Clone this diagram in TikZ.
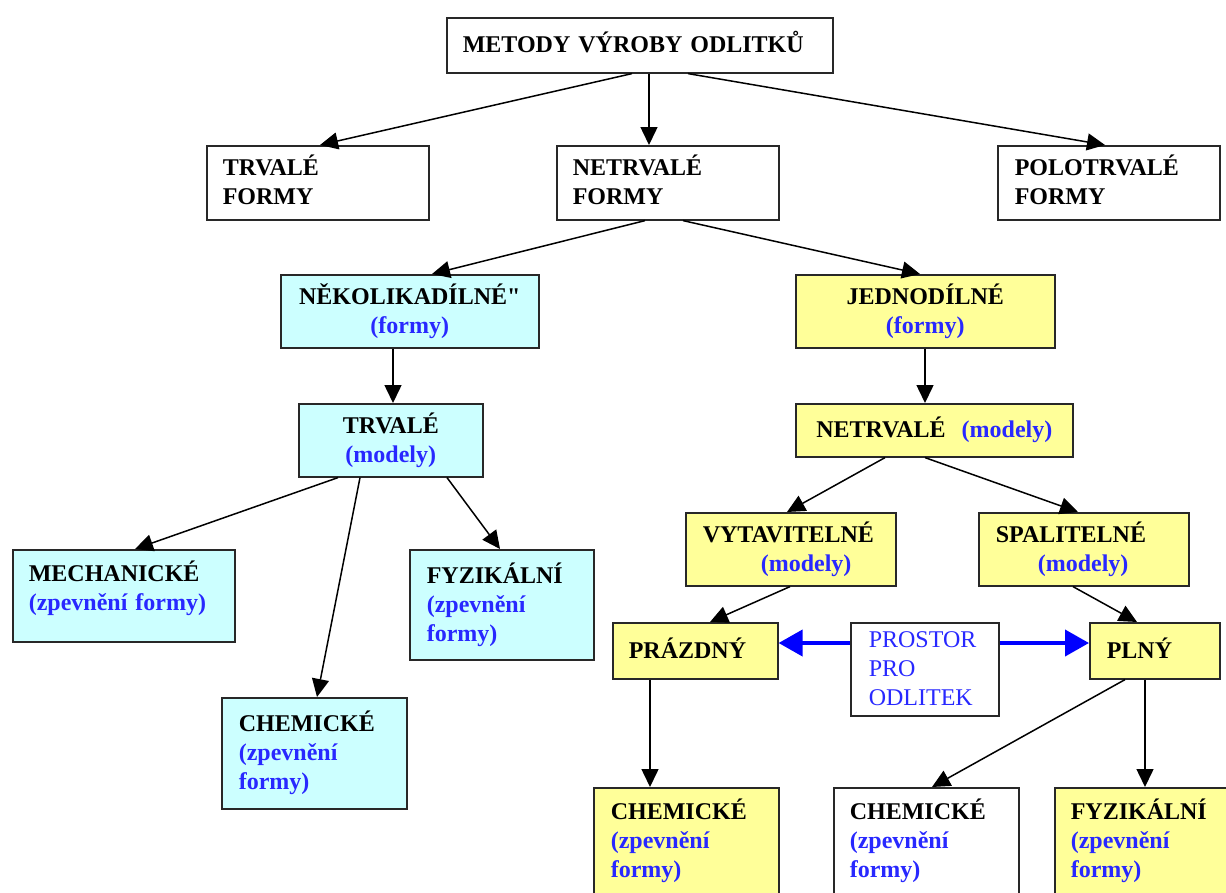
\documentclass[tikz,border=0pt]{standalone}
\usepackage{fontspec}
\setmainfont{Liberation Serif}
\usetikzlibrary{arrows.meta}
\definecolor{bcyan}{RGB}{204,255,255}
\definecolor{byel}{RGB}{255,255,153}
\definecolor{btxt}{RGB}{40,40,255}
\definecolor{bord}{RGB}{40,40,40}
\definecolor{barrow}{RGB}{0,0,255}
\newcommand\sr{\rule[-7pt]{0pt}{29pt}}
\newcommand\bl[1]{{\color{btxt}#1}}
\newcommand\straightquote{{\addfontfeatures{Ligatures=TeXOff}"}}
\begin{document}
\begin{tikzpicture}[x=1pt,y=-1pt,
  box/.style={draw=bord,line width=1.6pt,anchor=north west,inner xsep=16pt,inner ysep=0pt,
    font=\fontsize{24}{29}\selectfont\bfseries,align=left,fill=white},
  cy/.style={box,fill=bcyan},
  ye/.style={box,fill=byel},
  arr/.style={line width=1.5pt,-{Triangle[length=18pt,width=17pt]}},
  barr/.style={draw=barrow,line width=4pt,-{Triangle[length=24pt,width=26pt]}}]
\useasboundingbox (0,0) rectangle (1226,892);
\clip (0,0) rectangle (1226,892);
\fill[white] (0,0) rectangle (1226,892);

\node[box,text width=354pt,minimum height=55pt] (met) at (446,17) {\sr METODY VÝROBY ODLITKŮ};
\node[box,text width=190pt,minimum height=74pt] (tf) at (206,145) {\sr TRVALÉ\\\sr FORMY};
\node[box,text width=190pt,minimum height=74pt] (nf) at (556,145) {\sr NETRVALÉ\\\sr FORMY};
\node[box,inner xsep=17pt,text width=188pt,minimum height=74pt] (pf) at (997,145) {\sr POLOTRVALÉ\\\sr FORMY};

\node[cy,align=center,inner xsep=10pt,text width=238pt,minimum height=73pt] (nek) at (280,274) {\sr NĚKOLIKADÍLNÉ\straightquote\\\sr\bl{(formy)}};
\node[ye,align=center,inner xsep=10pt,text width=239pt,minimum height=73pt] (jed) at (795,274) {\sr JEDNODÍLNÉ\\\sr\bl{(formy)}};

\node[cy,align=center,inner xsep=10pt,text width=164pt,minimum height=73pt] (trm) at (298,403) {\sr TRVALÉ\\\sr\bl{(modely)}};
\node[ye,align=center,inner xsep=10pt,text width=257pt,minimum height=53pt] (ntm) at (795,403) {\sr NETRVALÉ\ \ \bl{(modely)}};

\node[ye,inner xsep=17pt,text width=176pt,minimum height=73pt] (vyt) at (685,512) {\sr VYTAVITELNÉ\\\sr\hspace*{58pt}\bl{(modely)}};
\node[ye,inner xsep=17pt,text width=176pt,minimum height=73pt] (spa) at (978,512) {\sr SPALITELNÉ\\\sr\hspace*{42pt}\bl{(modely)}};

\node[ye,inner xsep=16pt,text width=133pt,minimum height=56pt] (praz) at (612,622) {\sr PRÁZDNÝ};
\node[box,inner xsep=18pt,text width=112pt,minimum height=93pt,font=\fontsize{24}{29}\selectfont\mdseries] (pros) at (850,622) {\sr\bl{PROSTOR}\\\sr\bl{PRO}\\\sr\bl{ODLITEK}};
\node[ye,inner xsep=17pt,text width=96pt,minimum height=56pt] (pln) at (1089,622) {\sr PLNÝ};

\node[cy,text width=190pt,minimum height=92pt] (mech) at (12,549) {\sr MECHANICKÉ\\\sr\bl{(zpevnění formy)}\rule[-21pt]{0pt}{0pt}};
\node[cy,inner xsep=17pt,text width=150pt,minimum height=110pt] (fyz) at (409,549) {\sr FYZIKÁLNÍ\\\sr\bl{(zpevnění}\\\sr\bl{formy)}};
\node[cy,inner xsep=17pt,text width=151pt,minimum height=111pt] (chl) at (221,697) {\sr CHEMICKÉ\\\sr\bl{(zpevnění}\\\sr\bl{formy)}};

\node[ye,inner xsep=17pt,text width=151pt,minimum height=106pt] (chy) at (593,787) {\sr CHEMICKÉ\\\sr\bl{(zpevnění}\\\sr\bl{formy)}};
\node[box,inner xsep=16pt,text width=153pt,minimum height=106pt] (chw) at (833,787) {\sr CHEMICKÉ\\\sr\bl{(zpevnění}\\\sr\bl{formy)}};
\node[ye,inner xsep=16pt,text width=153pt,minimum height=106pt] (fyy) at (1054,787) {\sr FYZIKÁLNÍ\\\sr\bl{(zpevnění}\\\sr\bl{formy)}};

\draw[arr] ([xshift=186pt]met.south west) -- ([xshift=114pt]tf.north west);
\draw[arr] ([xshift=203pt]met.south west) -- ([xshift=93pt]nf.north west);
\draw[arr] ([xshift=242pt]met.south west) -- ([xshift=108pt]pf.north west);
\draw[arr] ([xshift=89pt]nf.south west) -- ([xshift=152pt]nek.north west);
\draw[arr] ([xshift=127pt]nf.south west) -- ([xshift=125pt]jed.north west);
\draw[arr] ([xshift=113pt]nek.south west) -- ([xshift=95pt]trm.north west);
\draw[arr] ([xshift=130pt]jed.south west) -- ([xshift=130pt]ntm.north west);
\draw[arr] ([xshift=40pt]trm.south west) -- ([xshift=123pt]mech.north west);
\draw[arr] ([xshift=62pt]trm.south west) -- ([xshift=96pt]chl.north west);
\draw[arr] ([xshift=149pt]trm.south west) -- ([xshift=91pt]fyz.north west);
\draw[arr] ([xshift=90pt]ntm.south west) -- ([xshift=102pt]vyt.north west);
\draw[arr] ([xshift=130pt]ntm.south west) -- ([xshift=100pt]spa.north west);
\draw[arr] ([xshift=105pt]vyt.south west) -- ([xshift=98pt]praz.north west);
\draw[arr] ([xshift=95pt]spa.south west) -- ([xshift=48pt]pln.north west);
\draw[arr] ([xshift=38pt]praz.south west) -- ([xshift=57pt]chy.north west);
\draw[arr] ([xshift=36pt]pln.south west) -- ([xshift=99pt]chw.north west);
\draw[arr] ([xshift=56pt]pln.south west) -- ([xshift=91pt]fyy.north west);
\draw[barr] ([yshift=-21pt]pros.north west) -- ([yshift=-21pt]praz.north east);
\draw[barr] ([yshift=-21pt]pros.north east) -- ([yshift=-21pt]pln.north west);
\end{tikzpicture}
\end{document}
